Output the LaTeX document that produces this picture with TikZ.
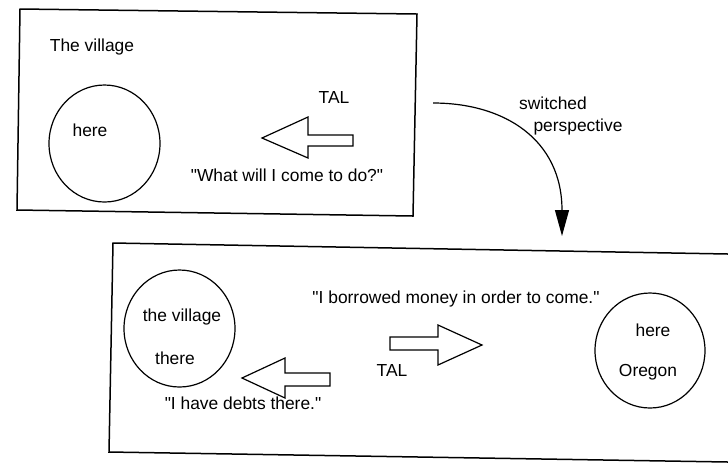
\documentclass[tikz,border=0pt]{standalone}
\usepackage{fontspec}
\setmainfont{Liberation Sans}[Ligatures=TeXOff]
\usepackage{tikz}
\usetikzlibrary{
        arrows.meta,
        shapes.geometric,
        positioning
    }
\tikzset{>={Triangle[length=13pt,width=7pt]},auto}
\tikzset{lbl/.style={inner sep=0pt,font=\fontsize{8.7}{10}\selectfont}}
\tikzset{place/.style={draw,ellipse,inner sep=0pt,line width=0.6pt}}
\tikzset{blockarrow/.style={draw,fill=white,line width=0.6pt,line join=miter}}

\begin{document}
\begin{tikzpicture}[x=0.5pt,y=-0.5pt]
                \useasboundingbox (0,0) rectangle (728,463);
                \coordinate (atl) at (20,9);
                \coordinate (atr) at (417,14);
                \coordinate (abr) at (413,216);
                \coordinate (abl) at (17,210);
                \draw [line width=0.75pt] (atl) -- (atr) -- (abr) -- (abl) -- cycle;
                \node [lbl] (topvillage) at (92,47) {The village};
                \node [place,minimum width=55.5pt,minimum height=58.5pt] (topcircle) at (104.5,143.5) {};
                \node [lbl] (tophere) at (90,130) {here};
                \node [lbl] (toptal) at (334,98) {TAL};
                \draw [blockarrow] (262,138) -- (308,117) -- (308,135) -- (353,135) -- (353,146) -- (308,146) -- (308,158) -- cycle;
                \node [lbl] (topsay) at (287,175) {"What will I come to do?"};
                \coordinate (sfrom) at (433,103);
                \coordinate (sto) at (562,236);
                \draw [->,line width=0.6pt] (sfrom) .. controls (505,103) and (562,140) .. (sto);
                \node [lbl] (switched) at (553,103) {switched};
                \node [lbl] (persp) at (578,127) {perspective};
                \coordinate (btl) at (113,243);
                \coordinate (btr) at (728,254);
                \coordinate (bbr) at (728,462);
                \coordinate (bbl) at (109,452);
                \draw [line width=0.75pt] (btr) -- (btl) -- (bbl) -- (bbr);
                \node [place,minimum width=55.5pt,minimum height=58.5pt] (botvillage) at (179.5,328.5) {};
                \node [lbl] (botvname) at (182,317) {the village};
                \node [lbl] (there) at (175,358) {there};
                \draw [blockarrow] (242,378) -- (285,358) -- (285,373) -- (330,373) -- (330,386) -- (285,386) -- (285,398) -- cycle;
                \node [lbl] (botsay) at (243,403) {"I have debts there."};
                \node [lbl] (botsay2) at (456,299) {"I borrowed money in order to come."};
                \draw [blockarrow] (482,345) -- (438,325) -- (438,337) -- (390,337) -- (390,350) -- (438,350) -- (438,365) -- cycle;
                \node [lbl] (bottal) at (392,370) {TAL};
                \node [place,minimum width=55pt,minimum height=57.5pt] (oregon) at (650,350.5) {};
                \node [lbl] (bothere) at (653,330) {here};
                \node [lbl] (botoregon) at (648,372) {Oregon};
            \end{tikzpicture}
\end{document}
